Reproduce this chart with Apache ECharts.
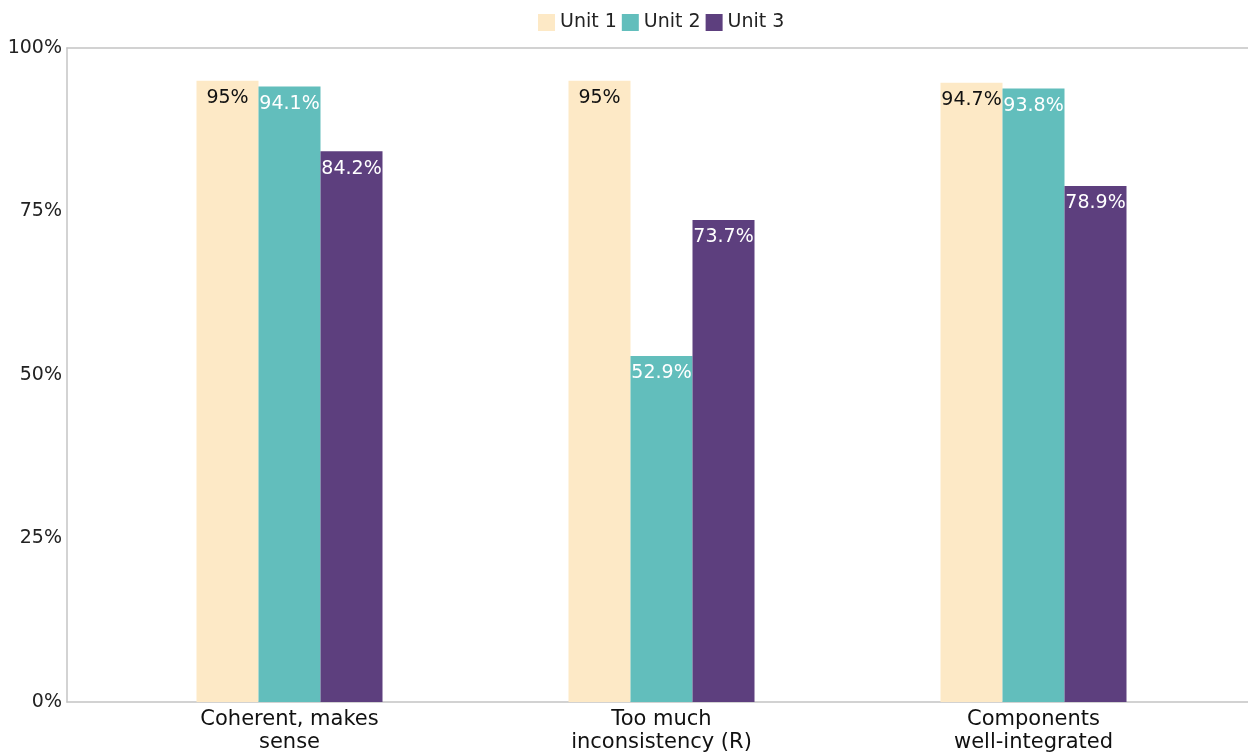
<!DOCTYPE html>
<html><head><meta charset="utf-8">
<script src="https://cdn.jsdelivr.net/npm/echarts@6/dist/echarts.min.js"></script>
<style>html,body{margin:0;padding:0;background:#fff}#c{width:1248px;height:755px}</style>
</head><body><div id="c"></div>
<script>
const categories = ["Coherent, makes\nsense", "Too much\ninconsistency (R)", "Components\nwell-integrated"];
const seriesNames = ["Unit 1", "Unit 2", "Unit 3"];
const unit1 = [95, 95, 94.7];
const unit2 = [94.1, 52.9, 93.8];
const unit3 = [84.2, 73.7, 78.9];
const yTicks = [0, 25, 50, 75, 100];

const colors = ["#FDE9C6", "#62BEBC", "#5D3F7E"];
const labelColors = ["#111", "#fff", "#fff"];
const FONT = "DejaVu Sans";
const LINE = {show: true, lineStyle: {color: '#c4c4c4', width: 1.5}};
const chart = echarts.init(document.getElementById('c'), null, {renderer: 'canvas'});
const values = [unit1, unit2, unit3];
chart.setOption({
  animation: false,
  textStyle: {fontFamily: FONT},
  legend: {
    data: seriesNames, top: 8, left: 533, itemWidth: 17, itemHeight: 17, itemGap: 5, icon: 'rect',
    textStyle: {fontSize: 19, color: '#222', fontFamily: FONT}
  },
  grid: [
    {left: 67, width: 1190, top: 48, bottom: 53},
    {left: 103.5, width: 1116, top: 48, bottom: 53}
  ],
  xAxis: [
    {gridIndex: 0, type: 'value', min: 0, max: 1, position: 'bottom', axisLine: LINE, axisTick: {show: false}, axisLabel: {show: false}, splitLine: {show: false}},
    {gridIndex: 0, type: 'value', min: 0, max: 1, position: 'top', axisLine: LINE, axisTick: {show: false}, axisLabel: {show: false}, splitLine: {show: false}},
    {gridIndex: 1, type: 'category', data: categories, axisLine: {show: false}, axisTick: {show: false},
     axisLabel: {fontSize: 21, color: '#111', lineHeight: 23, margin: 6, fontFamily: FONT}}
  ],
  yAxis: [
    {gridIndex: 0, type: 'value', min: yTicks[0], max: yTicks[yTicks.length-1], interval: 25,
     axisLine: LINE, axisTick: {show: false}, splitLine: {show: false},
     axisLabel: {formatter: '{value}%', fontSize: 19, color: '#222', margin: 5, fontFamily: FONT}},
    {gridIndex: 1, type: 'value', min: 0, max: 100, show: false, splitLine: {show: false}}
  ],
  series: seriesNames.map((n, i) => ({
    name: n, type: 'bar', xAxisIndex: 2, yAxisIndex: 1, data: values[i],
    barWidth: 62, barGap: '0%',
    itemStyle: {color: colors[i]},
    label: {show: true, position: 'insideTop', distance: 8, formatter: '{c}%', fontSize: 19, color: labelColors[i], fontFamily: FONT}
  }))
});
</script></body></html>
